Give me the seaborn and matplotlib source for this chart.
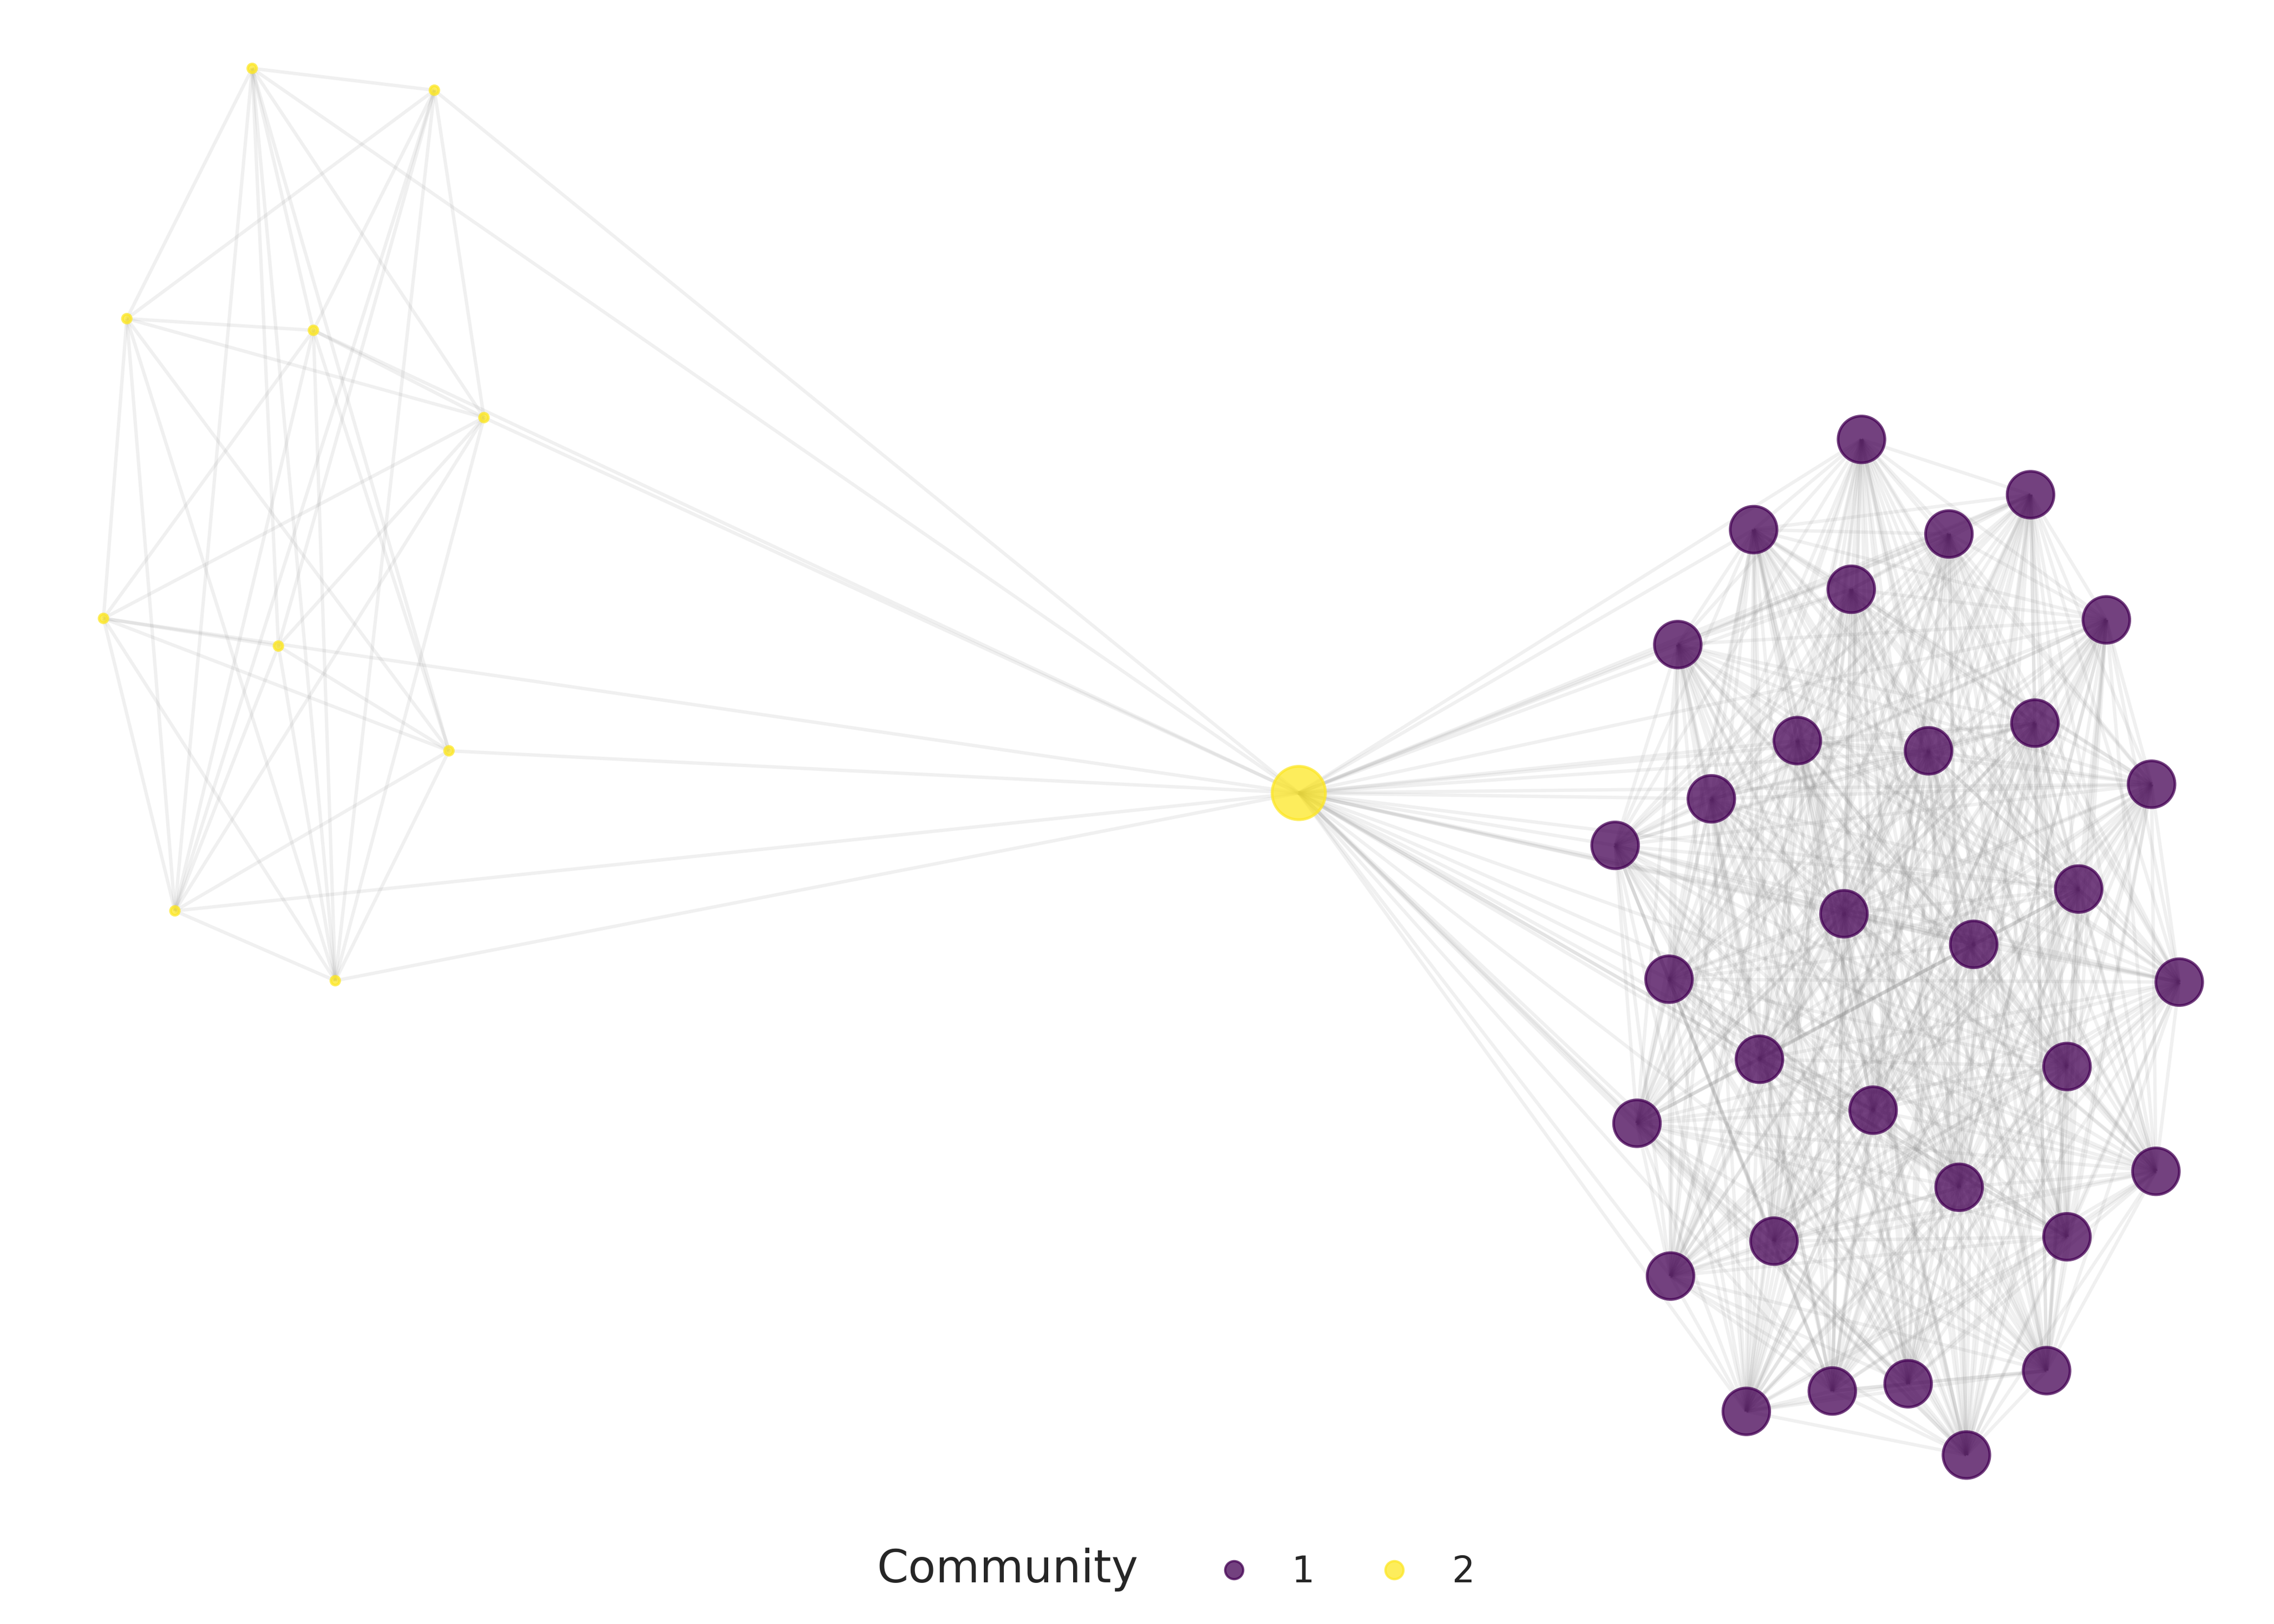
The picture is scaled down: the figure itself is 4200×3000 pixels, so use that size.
import numpy as np
import pandas as pd
import matplotlib.pyplot as plt
import seaborn as sns
from matplotlib.collections import LineCollection
from matplotlib.lines import Line2D

# Posições dos nós
small_x = [173, 298, 87, 215, 332, 71, 191, 308, 120, 230]
small_y = [47, 62, 219, 227, 287, 425, 444, 516, 626, 674]
hub_x, hub_y = 891, 545
big_x = [1277, 1393, 1203, 1337, 1270, 1445, 1151, 1396, 1233, 1323, 1476, 1174, 1108, 1426,
         1265, 1354, 1495, 1145, 1207, 1418, 1285, 1123, 1479, 1344, 1217, 1418, 1146, 1404,
         1309, 1257, 1198, 1349]
big_y = [302, 340, 364, 367, 405, 426, 443, 497, 509, 516, 539, 549, 581, 611,
         628, 649, 675, 673, 728, 733, 763, 772, 805, 816, 853, 850, 877, 942,
         951, 956, 970, 1000]

# Arestas do grupo pequeno (índices em small_x); o hub é o índice 10
small_edges = [(0, 1), (0, 2), (0, 3), (0, 4), (0, 6), (0, 7), (0, 9), (0, 8),
               (1, 2), (1, 3), (1, 4), (1, 6), (1, 8), (1, 9), (1, 10),
               (2, 3), (2, 4), (2, 5), (2, 7), (2, 8), (2, 9),
               (3, 4), (3, 5), (3, 8), (3, 9), (3, 7),
               (4, 5), (4, 8), (4, 9), (4, 10), (4, 6),
               (5, 6), (5, 7), (5, 8), (5, 9), (5, 10),
               (6, 7), (6, 8), (6, 9), (7, 8), (7, 9), (7, 10),
               (8, 9), (8, 10), (9, 10), (3, 10), (0, 10)]

comm = ['2'] * len(small_x) + ['2'] + ['1'] * len(big_x)
xs = small_x + [hub_x] + big_x
ys = small_y + [hub_y] + big_y
size = [1] * len(small_x) + [3] + [2.5] * len(big_x)
nodes = pd.DataFrame({'x': xs, 'y': ys, 'Community': comm, 'size': size})

# Arestas: grupo pequeno listado; grupo grande denso (todos com todos e com o hub)
segs = []
for a, b in small_edges:
    ax_, ay_ = (small_x + [hub_x])[a], (small_y + [hub_y])[a]
    bx_, by_ = (small_x + [hub_x])[b], (small_y + [hub_y])[b]
    segs.append([(ax_, ay_), (bx_, by_)])
bx_all = big_x + [hub_x]
by_all = big_y + [hub_y]
for i in range(len(bx_all)):
    for j in range(i + 1, len(bx_all)):
        segs.append([(bx_all[i], by_all[i]), (bx_all[j], by_all[j])])

sns.set_style('white')
fig = plt.figure(figsize=(14, 10), dpi=300)
ax = fig.add_axes([0, 0.07, 1, 0.93])
ax.add_collection(LineCollection(segs, colors='#888888', alpha=0.12, linewidths=1.5, zorder=1))

pal = {'1': '#440154', '2': '#FDE725'}
sns.scatterplot(data=nodes, x='x', y='y', hue='Community', size='size',
                sizes={1: 15, 2.5: 430, 3: 560}, palette=pal, alpha=0.75,
                edgecolor=nodes['Community'].map(pal), linewidth=1.2,
                legend=False, ax=ax, zorder=3)

ax.set_xlim(0, 1560)
ax.set_ylim(1038, 0)
ax.axis('off')

handles = [Line2D([], [], linestyle='none'),
           Line2D([], [], marker='o', linestyle='none', color='#440154', alpha=0.75, markersize=8),
           Line2D([], [], marker='o', linestyle='none', color='#FDE725', alpha=0.75, markersize=8)]
leg = fig.legend(handles, ['Community', '1', '2'], ncol=3, loc='lower center',
                 bbox_to_anchor=(0.5, 0.0), frameon=False, fontsize=16,
                 handletextpad=0.6, columnspacing=1.2)
leg.get_texts()[0].set_fontsize(20)
leg.get_texts()[0].set_x(-30)

fig.savefig('out.png', dpi=300, facecolor='white')
